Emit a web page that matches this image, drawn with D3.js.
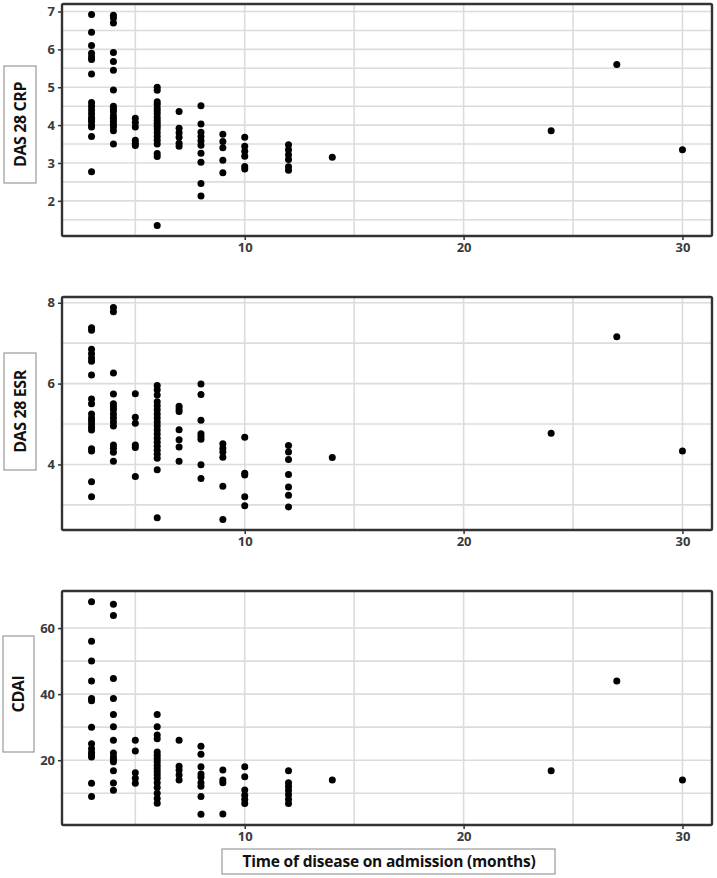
<!DOCTYPE html>
<html><head><meta charset="utf-8">
<script src="https://cdn.jsdelivr.net/npm/d3@7"></script>
<style>body{margin:0;background:#fff}</style>
</head><body><svg id="chart" width="717" height="878"></svg>
<script>
// months of disease on admission (x positions)
const months = [3, 4, 5, 6, 7, 8, 9, 10, 12, 14, 24, 27, 30];

// DAS 28 CRP values per month (same order as months)
const crpValues = [
  [6.92, 6.45, 6.1, 5.9, 5.8, 5.73, 5.35, 4.6, 4.5, 4.4, 4.3, 4.2, 4.15, 4.1, 4.0, 3.95, 3.7, 2.77],
  [6.9, 6.83, 6.7, 5.92, 5.68, 5.45, 4.93, 4.5, 4.42, 4.35, 4.25, 4.18, 4.1, 4.02, 3.95, 3.85, 3.5],
  [4.18, 4.07, 3.95, 3.6, 3.52, 3.46],
  [5.0, 4.92, 4.62, 4.55, 4.45, 4.38, 4.3, 4.2, 4.12, 4.05, 3.97, 3.9, 3.8, 3.7, 3.6, 3.5, 3.25, 3.17, 1.35],
  [4.36, 3.92, 3.8, 3.68, 3.52, 3.44],
  [4.51, 4.03, 3.81, 3.7, 3.59, 3.47, 3.26, 3.02, 2.46, 2.13],
  [3.76, 3.57, 3.4, 3.07, 2.74],
  [3.68, 3.44, 3.31, 3.18, 2.91, 2.84],
  [3.48, 3.35, 3.22, 3.09, 2.9, 2.81],
  [3.15],
  [3.85],
  [5.6],
  [3.35]
];

// DAS 28 ESR values per month
const esrValues = [
  [7.38, 7.32, 6.85, 6.74, 6.63, 6.55, 6.21, 5.62, 5.5, 5.25, 5.15, 5.08, 5.0, 4.92, 4.85, 4.39, 4.33, 3.57, 3.2],
  [7.88, 7.78, 6.26, 5.74, 5.5, 5.42, 5.35, 5.25, 5.15, 5.05, 4.95, 4.48, 4.4, 4.3, 4.08],
  [5.75, 5.17, 5.02, 4.48, 4.42, 3.7],
  [5.95, 5.85, 5.72, 5.55, 5.45, 5.35, 5.25, 5.15, 5.05, 4.95, 4.85, 4.75, 4.65, 4.55, 4.45, 4.35, 4.25, 4.15, 3.87, 2.68],
  [5.44, 5.37, 5.31, 4.86, 4.61, 4.43, 4.08],
  [5.99, 5.73, 5.09, 4.76, 4.69, 4.62, 3.99, 3.65],
  [4.51, 4.4, 4.31, 4.18, 3.46, 2.64],
  [4.67, 3.78, 3.74, 3.2, 2.98],
  [4.47, 4.31, 4.12, 3.75, 3.44, 3.24, 2.95],
  [4.17],
  [4.77],
  [7.16],
  [4.33]
];

// CDAI values per month
const cdaiValues = [
  [68, 56, 50, 44, 38.7, 38, 30, 25, 23.5, 22.3, 21.6, 21, 13, 9],
  [67.2, 63.8, 44.7, 38.7, 33.8, 30.1, 26, 22.2, 21, 20.2, 19.5, 16.8, 13.1, 10.9],
  [26, 22.8, 16.2, 14.5, 13],
  [33.8, 30.1, 27.6, 26.5, 22.5, 21.5, 20.5, 19.5, 18.5, 17.5, 16.5, 15.5, 14.5, 13.2, 11.7, 10, 8.4, 7],
  [26, 18.2, 17, 15.5, 14],
  [24.2, 21.8, 18, 15.8, 14.8, 13.2, 12.1, 9, 3.6],
  [17, 14, 13.2, 3.7],
  [18, 15, 11, 9.4, 8.1, 6.9],
  [16.8, 13.2, 12, 10.8, 9.5, 8.2, 6.9],
  [14],
  [16.8],
  [44],
  [14]
];

const xTicks = [10, 20, 30];
const xMinor = [5, 15, 25];
const crpTicks = [2, 3, 4, 5, 6, 7];
const crpMinor = [1.5, 2.5, 3.5, 4.5, 5.5, 6.5];
const esrTicks = [4, 6, 8];
const esrMinor = [3, 5, 7];
const cdaiTicks = [20, 40, 60];
const cdaiMinor = [10, 30, 50];
const panelLabels = ["DAS 28 CRP", "DAS 28 ESR", "CDAI"];
const xTitle = "Time of disease on admission (months)";

const svg = d3.select("#chart");
const L = 62, R = 712;
const font = "'Open Sans', 'DejaVu Sans', sans-serif";

function expand(ext) {
  const pad = (ext[1] - ext[0]) * 0.05;
  return [ext[0] - pad, ext[1] + pad];
}

const x = d3.scaleLinear().domain(expand(d3.extent(months))).range([L, R]);

const panels = [
  {values: crpValues, ticks: crpTicks, minor: crpMinor, top: 4, bottom: 236, box: [4, 66, 32, 117]},
  {values: esrValues, ticks: esrTicks, minor: esrMinor, top: 297, bottom: 530, box: [4, 353, 32, 117]},
  {values: cdaiValues, ticks: cdaiTicks, minor: cdaiMinor, top: 591, bottom: 825, box: [3, 636, 31, 116]}
];

panels.forEach((p, i) => {
  const pts = [];
  months.forEach((m, k) => p.values[k].forEach(v => pts.push({x: m, y: v})));
  const y = d3.scaleLinear().domain(expand(d3.extent(pts, d => d.y))).range([p.bottom, p.top]);
  const g = svg.append("g");

  // grid
  const grid = g.append("g").attr("stroke", "#dcdcdc").attr("stroke-width", 1.6);
  p.ticks.concat(p.minor).forEach(t => {
    grid.append("line").attr("x1", L).attr("x2", R).attr("y1", y(t)).attr("y2", y(t));
  });
  xTicks.concat(xMinor).forEach(t => {
    grid.append("line").attr("x1", x(t)).attr("x2", x(t)).attr("y1", p.top).attr("y2", p.bottom);
  });

  // points
  g.append("g").selectAll("circle").data(pts).join("circle")
    .attr("cx", d => x(d.x)).attr("cy", d => y(d.y)).attr("r", 3.5).attr("fill", "#000");

  // border
  g.append("rect").attr("x", L).attr("y", p.top).attr("width", R - L).attr("height", p.bottom - p.top)
    .attr("fill", "none").attr("stroke", "#333").attr("stroke-width", 2.4).attr("rx", 1.5);

  // axes
  const ay = g.append("g").attr("transform", `translate(${L - 1},0)`)
    .call(d3.axisLeft(y).tickValues(p.ticks).tickSize(3).tickPadding(3).tickFormat(d3.format("d")));
  const ax = g.append("g").attr("transform", `translate(0,${p.bottom + 1})`)
    .call(d3.axisBottom(x).tickValues(xTicks).tickSize(3).tickPadding(3).tickFormat(d3.format("d")));
  [ay, ax].forEach(a => {
    a.select(".domain").remove();
    a.selectAll(".tick line").attr("stroke", "#333").attr("stroke-width", 1.5);
    a.selectAll(".tick text").attr("fill", "#3a3a3a").attr("font-family", font)
      .attr("font-weight", "bold").attr("font-size", 13);
  });

  // strip label
  const b = p.box;
  g.append("rect").attr("x", b[0]).attr("y", b[1]).attr("width", b[2]).attr("height", b[3])
    .attr("fill", "#fff").attr("stroke", "#9a9a9a").attr("stroke-width", 1.2);
  g.append("text").attr("transform", `translate(${b[0] + b[2] / 2 + 5.5},${b[1] + b[3] / 2}) rotate(-90)`)
    .attr("text-anchor", "middle").attr("font-family", font).attr("font-weight", "bold")
    .attr("font-size", 16).attr("letter-spacing", -0.4).attr("fill", "#111").text(panelLabels[i]);
});

// x title
svg.append("rect").attr("x", 222).attr("y", 849).attr("width", 333).attr("height", 25)
  .attr("fill", "#fff").attr("stroke", "#9a9a9a").attr("stroke-width", 1.2);
svg.append("text").attr("x", 389).attr("y", 867).attr("text-anchor", "middle")
  .attr("font-family", font).attr("font-weight", "bold").attr("font-size", 15.5).attr("fill", "#111")
  .attr("letter-spacing", -0.2).text(xTitle);
</script>
</body></html>
